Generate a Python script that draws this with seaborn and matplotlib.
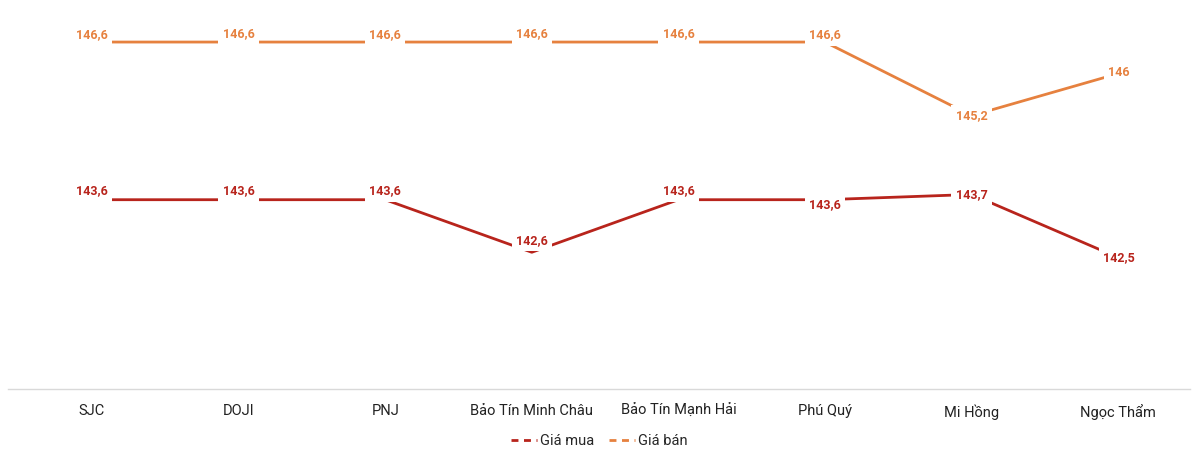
import pandas as pd
import seaborn as sns
import matplotlib.pyplot as plt

# gia vang theo thuong hieu (trieu dong/luong)
brands = ['SJC', 'DOJI', 'PNJ', 'Bảo Tín Minh Châu', 'Bảo Tín Mạnh Hải', 'Phú Quý', 'Mi Hồng', 'Ngọc Thẩm']
gia_mua = [143.6, 143.6, 143.6, 142.6, 143.6, 143.6, 143.7, 142.5]
gia_ban = [146.6, 146.6, 146.6, 146.6, 146.6, 146.6, 145.2, 146.0]

series_names = ['Giá mua', 'Giá bán']
colors = ['#B8241C', '#E6813F']

df = pd.DataFrame({
    'brand': brands * 2,
    'price': gia_mua + gia_ban,
    'series': [series_names[0]] * len(brands) + [series_names[1]] * len(brands),
})
df['x'] = list(range(len(brands))) * 2

sns.set_style('white')
plt.rcParams['font.family'] = ['Roboto', 'DejaVu Sans']

fig = plt.figure(figsize=(12, 4.57), dpi=100)
ax = fig.add_axes([8 / 1200, 0.149, 1182 / 1200, 0.851])

sns.lineplot(data=df, x='x', y='price', hue='series', hue_order=series_names,
             palette=colors, linewidth=2.0, ax=ax, legend=True, sort=False)

def fmt(v):
    s = f'{v:.1f}'
    if s.endswith('.0'):
        s = s[:-2]
    return s.replace('.', ',')

# label offsets in pixels (dx, dy)
off_mua = [(0, 9), (0, 9), (0, 9), (0, 12), (0, 9), (0, -5), (0, 0), (1, 0)]
off_ban = [(0, 7), (0, 8), (0, 7), (0, 8), (0, 8), (0, 7), (0, 0), (1, 1)]

for vals, offs, c in [(gia_mua, off_mua, colors[0]), (gia_ban, off_ban, colors[1])]:
    for i, v in enumerate(vals):
        ax.annotate(fmt(v), (i, v), xytext=offs[i], textcoords='offset pixels',
                    ha='center', va='center', fontsize=9, fontweight='bold', color=c,
                    bbox=dict(boxstyle='square,pad=0.35', fc='white', ec='none'), zorder=5)

ax.set_xlim(-0.573, 7.49)
ax.set_ylim(140, 147.4)
ax.set_xticks(range(len(brands)))
ax.set_xticklabels(brands, fontsize=10.5, color='#222222')
ax.tick_params(axis='x', length=0, pad=11)
ax.set_yticks([])
ax.set_xlabel('')
ax.set_ylabel('')
for side in ['top', 'left', 'right']:
    ax.spines[side].set_visible(False)
ax.spines['bottom'].set_color('#D9D9D9')
ax.spines['bottom'].set_linewidth(1.0)

handles, labels = ax.get_legend_handles_labels()
leg = ax.legend(handles, labels, loc='center', bbox_to_anchor=(0.5, -0.135), ncol=2,
                frameon=False, fontsize=10.5, handlelength=1.8, handletextpad=0.2,
                columnspacing=1.0)
for h in leg.get_lines():
    h.set_linestyle((0, (2.5, 2)))

fig.savefig('out.png', dpi=100)
